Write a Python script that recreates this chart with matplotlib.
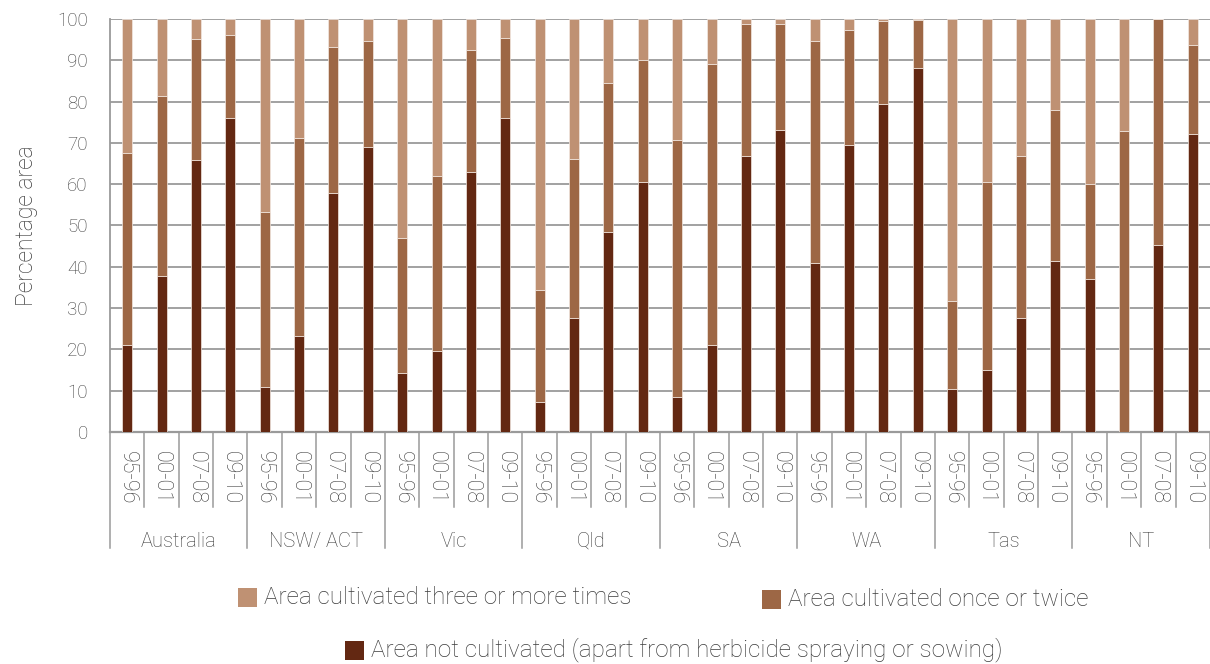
import matplotlib
matplotlib.use("Agg")
import matplotlib.pyplot as plt
import matplotlib.patches as mpatches
import matplotlib.transforms as mtrans
import numpy as np

plt.rcParams['font.family'] = ['Roboto', 'DejaVu Sans']
plt.rcParams['font.weight'] = 'light'
plt.rcParams['axes.labelweight'] = 'light'

regions = ['Australia', 'NSW/ ACT', 'Vic', 'Qld', 'SA', 'WA', 'Tas', 'NT']
years = ['95-96', '00-01', '07-08', '09-10']

# % area not cultivated (apart from herbicide spraying or sowing)
not_cult = [21.0, 37.7, 65.8, 76.0,
            10.8, 23.3, 57.8, 69.0,
            14.3, 19.5, 63.0, 76.0,
            7.3, 27.5, 48.5, 60.5,
            8.5, 21.0, 66.8, 73.2,
            40.8, 69.4, 79.5, 88.2,
            10.5, 15.0, 27.6, 41.5,
            37.0, 0.0, 45.3, 72.1]
# % area cultivated once or twice
once_twice = [46.5, 43.6, 29.4, 20.2,
              42.4, 47.8, 35.5, 25.7,
              32.7, 42.5, 29.6, 19.3,
              27.0, 38.7, 35.9, 29.5,
              62.1, 68.0, 31.9, 25.5,
              53.8, 27.9, 20.0, 11.5,
              21.3, 45.5, 39.2, 36.5,
              23.0, 72.8, 54.7, 21.7]
# % area cultivated three or more times
three_plus = [100 - a - b for a, b in zip(not_cult, once_twice)]

legend_labels = ['Area cultivated three or more times',
                 'Area cultivated once or twice',
                 'Area not cultivated (apart from herbicide spraying or sowing)']

c_dark = '#632812'
c_mid = '#9d6745'
c_light = '#bf9173'
grid_col = '#9a9a9a'
txt_col = '#3c3c3c'

W, H = 1210, 664
fig = plt.figure(figsize=(W / 100, H / 100), dpi=100)
ax = fig.add_axes([0.0909, 0.3494, 0.9091, 0.622])

x = np.arange(len(not_cult))
w = 0.29
ax.bar(x, not_cult, w, color=c_dark, edgecolor='#f3e9e2', linewidth=0.5, zorder=3)
ax.bar(x, once_twice, w, bottom=not_cult, color=c_mid, edgecolor='#f3e9e2', linewidth=0.5, zorder=3)
bottom2 = [a + b for a, b in zip(not_cult, once_twice)]
ax.bar(x, three_plus, w, bottom=bottom2, color=c_light, edgecolor='#f3e9e2', linewidth=0.5, zorder=3)

ax.set_xlim(-0.5, len(x) - 0.5)
ax.set_ylim(0, 100)
ax.set_yticks(range(0, 101, 10))
ax.yaxis.grid(True, color=grid_col, linewidth=1.3, zorder=0)
ax.tick_params(axis='y', length=0, pad=16, labelsize=13.5, colors=txt_col)
ax.set_ylabel('Percentage area', fontsize=16.5, color=txt_col, labelpad=14,
              fontweight='light')

for s in ['top', 'right']:
    ax.spines[s].set_visible(False)
ax.spines['left'].set_color(grid_col)
ax.spines['left'].set_linewidth(1.3)
ax.spines['bottom'].set_color(grid_col)
ax.spines['bottom'].set_linewidth(1.6)

# category axis drawn by hand: year labels, separators, region labels
ax.set_xticks([])
trans = mtrans.blended_transform_factory(ax.transData, ax.transAxes)
for i in range(len(x)):
    ax.text(x[i], -0.047, years[i % 4], rotation=270, ha='center', va='top',
            fontsize=15.5, color=txt_col, transform=trans)
for i in range(len(x) + 1):
    low = -0.282 if i % 4 == 0 else -0.182
    ax.plot([i - 0.5, i - 0.5], [0, low], color=grid_col, linewidth=1.1,
            transform=trans, clip_on=False)
for g, name in enumerate(regions):
    ax.text(g * 4 + 1.5, -0.264, name, ha='center', va='center',
            fontsize=14.5, color=txt_col, transform=trans)

# legend: coloured square + label, positions in pixels from top-left
leg_items = [(c_light, legend_labels[0], 238, 597),
             (c_mid, legend_labels[1], 762, 599),
             (c_dark, legend_labels[2], 345, 650)]
sq = 19
for col, lab, px, py in leg_items:
    fig.patches.append(mpatches.Rectangle(((px) / W, (H - py - sq / 2) / H),
                                          sq / W, sq / H, facecolor=col,
                                          edgecolor='none',
                                          transform=fig.transFigure, figure=fig))
    fig.text((px + sq + 7) / W, (H - py) / H, lab, ha='left', va='center',
             fontsize=17.5, color=txt_col)

fig.savefig('out.png', dpi=100)
